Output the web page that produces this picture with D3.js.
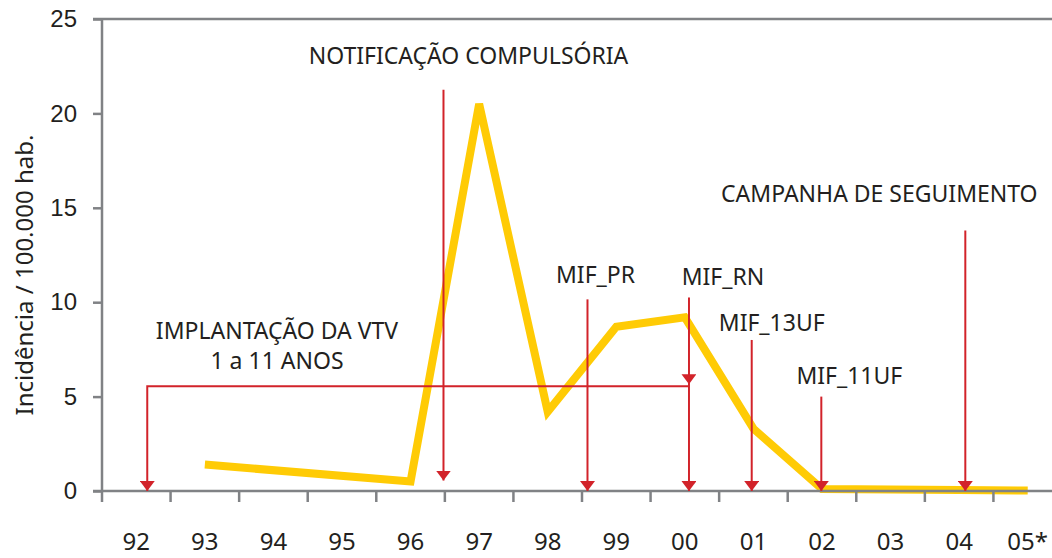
<!DOCTYPE html>
<html>
<head>
<meta charset="utf-8">
<script src="https://cdn.jsdelivr.net/npm/d3@7"></script>
<style>
  html, body { margin: 0; padding: 0; background: #fff; }
  svg { display: block; font-family: "Noto Sans", "Open Sans", sans-serif; }
</style>
</head>
<body>
<svg id="chart" width="1052" height="558"></svg>
<script>
// Years on the horizontal axis (one band per year)
const years = ["92", "93", "94", "95", "96", "97", "98", "99", "00", "01", "02", "03", "04", "05*"];
// Incidence per 100,000 inhabitants (null = no record)
const incidence = [null, 1.4, null, null, 0.5, 20.5, 4.2, 8.7, 9.2, 3.3, 0.1, 0.08, 0.05, 0.02];
// Vertical axis ticks
const yTicks = [0, 5, 10, 15, 20, 25];

// Event markers: label, year band, position inside the band, top of the arrow, arrow tip
const eventNames = ["NOTIFICAÇÃO COMPULSÓRIA", "MIF_PR", "MIF_RN", "MIF_13UF", "MIF_11UF", "CAMPANHA DE SEGUIMENTO"];
const eventYears = ["96", "99", "00", "01", "02", "04"];
const eventFrac  = [0.98, 0.08, 0.56, 0.475, 0.49, 0.59];
const eventTop   = [21.25, 10.15, 10.25, 8.0, 5.0, 13.8];
const eventTip   = [0.55, 0, 0, 0, 0, 0];

// Vaccine introduction bracket: spans from year 92 to year 00 at this level
const vtvLines = ["IMPLANTAÇÃO DA VTV", "1 a 11 ANOS"];
const vtvStart = ["92", 0.66];
const vtvEnd   = ["00", 0.56];
const vtvLevel = 5.55;

const RED = "#d2232a", YELLOW = "#ffcb05", GRAY = "#808285", TEXT = "#231f20";

const svg = d3.select("#chart");
const x = d3.scaleBand().domain(years).range([102, 1062]).paddingInner(0).paddingOuter(0);
const y = d3.scaleLinear().domain([0, 25]).range([491, 19]);
const at = (yr, f) => x(yr) + f * x.bandwidth();

// Arrowhead marker (drawn along +x, rotated with the path)
svg.append("defs").append("marker")
  .attr("id", "arrow").attr("viewBox", "0 0 10 15")
  .attr("refX", 10).attr("refY", 7.5)
  .attr("markerWidth", 10).attr("markerHeight", 15)
  .attr("markerUnits", "userSpaceOnUse").attr("orient", "auto-start-reverse")
  .append("path").attr("d", "M0,0 L10,7.5 L0,15 Z").attr("fill", RED);

// Incidence line
const pts = years.map((yr, i) => ({ yr, v: incidence[i] })).filter(d => d.v !== null);
svg.append("path")
  .datum(pts)
  .attr("fill", "none")
  .attr("stroke", YELLOW)
  .attr("stroke-width", 8)
  .attr("d", d3.line().x(d => x(d.yr) + x.bandwidth() / 2).y(d => y(d.v)));

// Y axis
const yAxis = svg.append("g").attr("transform", "translate(102,0)")
  .call(d3.axisLeft(y).tickValues(yTicks).tickSize(9).tickPadding(16).tickFormat(d3.format("d")));
yAxis.select(".domain").remove();
yAxis.selectAll(".tick line").attr("stroke", GRAY).attr("stroke-width", 2.5);
yAxis.selectAll(".tick text").attr("fill", TEXT).style("font-size", "24px").attr("font-family", null);
svg.append("line").attr("x1", 102).attr("x2", 102).attr("y1", y(25)).attr("y2", y(0))
  .attr("stroke", GRAY).attr("stroke-width", 2.5);
// Top border line at 25
svg.append("line").attr("x1", 93).attr("x2", 1052).attr("y1", y(25)).attr("y2", y(25))
  .attr("stroke", GRAY).attr("stroke-width", 2.5);

// X axis: ticks on band boundaries, labels centred in the bands
const xg = svg.append("g").attr("transform", `translate(0,${y(0)})`);
xg.selectAll("line.tick").data(years).join("line")
  .attr("class", "tick")
  .attr("x1", d => x(d)).attr("x2", d => x(d))
  .attr("y1", 0).attr("y2", 11)
  .attr("stroke", GRAY).attr("stroke-width", 2.5);
xg.selectAll("text").data(years).join("text")
  .attr("x", d => x(d) + x.bandwidth() / 2)
  .attr("y", 59)
  .attr("text-anchor", "middle")
  .attr("fill", TEXT)
  .style("font-size", "24px")
  .text(d => d);
xg.append("line").attr("x1", 93).attr("x2", 1052).attr("y1", 0).attr("y2", 0)
  .attr("stroke", GRAY).attr("stroke-width", 2.5);

// Y axis title
svg.append("text")
  .attr("transform", `translate(33,${(y(0) + y(25)) / 2 + 20}) rotate(-90)`)
  .attr("text-anchor", "middle")
  .attr("fill", TEXT)
  .style("font-size", "24px")
  .text("Incidência / 100.000 hab.");

// Vaccine introduction bracket
const bx0 = at(vtvStart[0], vtvStart[1]);
const bx1 = at(vtvEnd[0], vtvEnd[1]);
svg.append("path")
  .attr("d", `M${bx0},${y(0)} L${bx0},${y(vtvLevel)} L${bx1},${y(vtvLevel)}`)
  .attr("fill", "none").attr("stroke", RED).attr("stroke-width", 2)
  .attr("marker-start", "url(#arrow)");
svg.append("line")
  .attr("x1", bx1).attr("x2", bx1).attr("y1", y(vtvLevel) - 14).attr("y2", y(vtvLevel) - 2)
  .attr("stroke", RED).attr("stroke-width", 0.01).attr("marker-end", "url(#arrow)");
const vtvText = svg.append("text")
  .attr("text-anchor", "middle").attr("fill", TEXT).style("font-size", "23px");
vtvLines.forEach((t, i) => {
  vtvText.append("tspan").attr("x", 277).attr("y", y(vtvLevel) - 47 + i * 30).text(t);
});

// Event arrows
const evX = eventYears.map((yr, i) => at(yr, eventFrac[i]));
svg.selectAll("line.event").data(eventNames).join("line")
  .attr("class", "event")
  .attr("x1", (d, i) => evX[i]).attr("x2", (d, i) => evX[i])
  .attr("y1", (d, i) => y(eventTop[i])).attr("y2", (d, i) => y(eventTip[i]))
  .attr("stroke", RED).attr("stroke-width", 2)
  .attr("marker-end", "url(#arrow)");

// Event labels, placed just above each arrow
const labelDx = [25, 8, 34, 20, 28, -86];
const labelDy = [-26, -16, -12, -9, -13, -28];
svg.selectAll("text.event").data(eventNames).join("text")
  .attr("class", "event")
  .attr("x", (d, i) => evX[i] + labelDx[i])
  .attr("y", (d, i) => y(eventTop[i]) + labelDy[i])
  .attr("text-anchor", "middle")
  .attr("fill", TEXT)
  .style("font-size", "23px")
  .text(d => d);
</script>
</body>
</html>
